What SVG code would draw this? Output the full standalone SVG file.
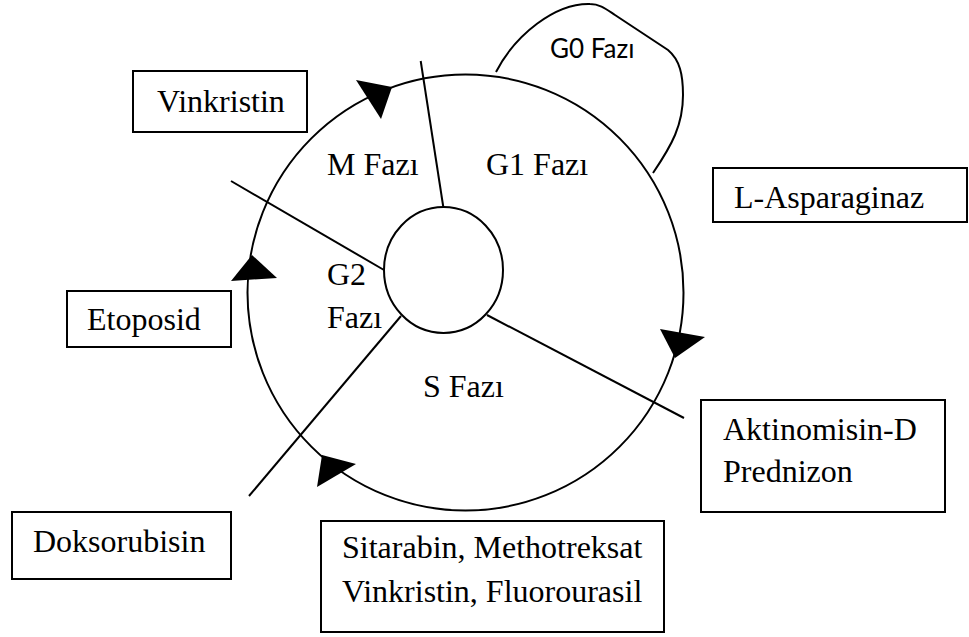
<svg xmlns="http://www.w3.org/2000/svg" width="969" height="637" viewBox="0 0 969 637">
<style>
  .ln{fill:none;stroke:#000;stroke-width:2}
  .box{fill:#fff;stroke:#000;stroke-width:2}
  .t{font-family:"Liberation Serif","Times New Roman",serif;font-size:32px;fill:#000}
  .s{font-family:Lato,"Open Sans",sans-serif;font-size:26px;fill:#000}
  .ah{fill:#000;stroke:none}
</style>
<rect width="969" height="637" fill="#fff"/>
<g id="connectors">
  <circle class="ln" cx="465.5" cy="292.5" r="218"/>
  <path class="ln" d="M496,72 C515,35 555,3 590,4 C600,4 606,9 615,15 L668,50 C680,60 683,75 683,95 C683,125 672,145 653,173"/>
  <line class="ln" x1="420.7" y1="61" x2="443.3" y2="207"/>
  <line class="ln" x1="231" y1="181" x2="384" y2="270"/>
  <line class="ln" x1="401" y1="316" x2="249" y2="496"/>
  <line class="ln" x1="487" y1="315" x2="684" y2="418"/>
  <polygon class="ah" points="356,80 392,87 381,119"/>
  <polygon class="ah" points="660,329 705,337 675,358"/>
  <polygon class="ah" points="231,281 277,278 252,255"/>
  <polygon class="ah" points="322,455 356,464 317,487"/>
</g>
<g id="cell-center">
  <ellipse class="ln" cx="443.5" cy="270" rx="59.5" ry="63" fill="#fff"/>
</g>
<g id="phase-labels">
  <text class="t" x="327" y="175">M Fazı</text>
  <text class="t" x="486" y="175">G1 Fazı</text>
  <text class="t" x="327" y="285">G2</text>
  <text class="t" x="327" y="328">Fazı</text>
  <text class="t" x="423" y="397">S Fazı</text>
  <text class="s" x="550" y="58">G0 Fazı</text>
</g>
<g id="vinkristin">
  <rect class="box" x="133" y="71" width="174" height="61"/>
  <text class="t" x="157" y="112">Vinkristin</text>
</g>
<g id="etoposid">
  <rect class="box" x="67" y="291" width="164" height="56"/>
  <text class="t" x="87" y="330">Etoposid</text>
</g>
<g id="l-asparaginaz">
  <rect class="box" x="713" y="168" width="254" height="54"/>
  <text class="t" x="734" y="208">L-Asparaginaz</text>
</g>
<g id="aktinomisin">
  <rect class="box" x="701" y="400" width="244" height="112"/>
  <text class="t" x="723" y="440">Aktinomisin-D</text>
  <text class="t" x="723" y="482">Prednizon</text>
</g>
<g id="doksorubisin">
  <rect class="box" x="12" y="512" width="219" height="67"/>
  <text class="t" x="33" y="552">Doksorubisin</text>
</g>
<g id="sitarabin">
  <rect class="box" x="321" y="521" width="343" height="111"/>
  <text class="t" x="342" y="558">Sitarabin, Methotreksat</text>
  <text class="t" x="342" y="602">Vinkristin, Fluorourasil</text>
</g>
</svg>
